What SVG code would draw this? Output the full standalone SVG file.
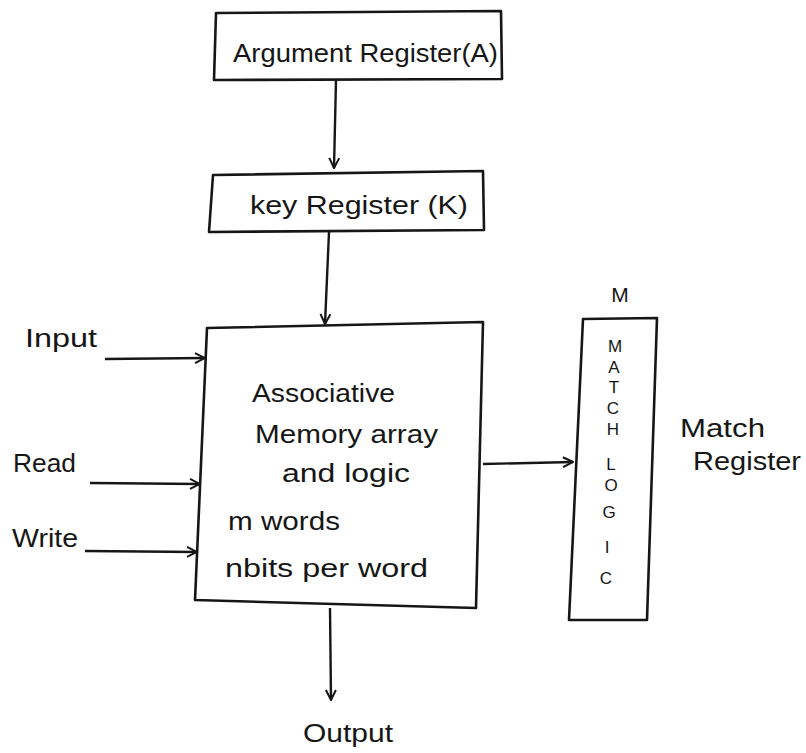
<svg xmlns="http://www.w3.org/2000/svg" width="806" height="753" viewBox="0 0 806 753">
<style>
.box{fill:none;stroke:#161616;stroke-width:2.6;stroke-linejoin:round}
.ln{fill:none;stroke:#161616;stroke-width:2.4}
.t{font-family:"Liberation Sans","DejaVu Sans",sans-serif;fill:#161616;font-size:25px}
.v{font-family:"Liberation Sans","DejaVu Sans",sans-serif;fill:#161616;font-size:17px;text-anchor:middle}
</style>
<defs>
<marker id="ah" viewBox="0 0 12 12" refX="11" refY="6" markerWidth="12" markerHeight="12" markerUnits="userSpaceOnUse" orient="auto">
<path d="M1,1 L11,6 L1,11" fill="none" stroke="#161616" stroke-width="2"/>
</marker>
</defs>
<rect width="806" height="753" fill="#ffffff"/>
<g id="argument-register">
<path class="box" d="M216,13 L501,11 L502,79 L214,80 Z"/>
<text class="t" x="233" y="62" textLength="265" lengthAdjust="spacingAndGlyphs">Argument Register(A)</text>
</g>
<g id="key-register">
<path class="box" d="M213,175 L483,171 L484,230 L209,232 Z"/>
<text class="t" x="250" y="214" textLength="218" lengthAdjust="spacingAndGlyphs">key Register (K)</text>
</g>
<g id="memory-array">
<path class="box" d="M207,328 L483,322 L476,608 L195,600 Z"/>
<text class="t" x="252" y="402" textLength="143" lengthAdjust="spacingAndGlyphs">Associative</text>
<text class="t" x="255" y="443" textLength="183" lengthAdjust="spacingAndGlyphs">Memory array</text>
<text class="t" x="282" y="482" textLength="128" lengthAdjust="spacingAndGlyphs">and logic</text>
<text class="t" x="228" y="530" textLength="112" lengthAdjust="spacingAndGlyphs">m words</text>
<text class="t" x="225" y="577" textLength="203" lengthAdjust="spacingAndGlyphs">nbits per word</text>
</g>
<g id="match-logic">
<text class="t" x="620" y="302" text-anchor="middle" style="font-size:21px">M</text>
<path class="box" d="M583,319 L657,318 L647,620 L569,620 Z"/>
<text class="v" x="615" y="352">M</text>
<text class="v" x="614" y="373">A</text>
<text class="v" x="614" y="393">T</text>
<text class="v" x="613" y="414">C</text>
<text class="v" x="613" y="435">H</text>
<text class="v" x="611" y="470">L</text>
<text class="v" x="611" y="491">O</text>
<text class="v" x="609" y="518">G</text>
<text class="v" x="607" y="553">I</text>
<text class="v" x="606" y="584">C</text>
</g>
<g id="match-register-label">
<text class="t" x="680" y="437" textLength="85" lengthAdjust="spacingAndGlyphs">Match</text>
<text class="t" x="693" y="470" textLength="108" lengthAdjust="spacingAndGlyphs">Register</text>
</g>
<g id="input-label"><text class="t" x="25" y="347" textLength="72" lengthAdjust="spacingAndGlyphs">Input</text></g>
<g id="read-label"><text class="t" x="13" y="472" textLength="63" lengthAdjust="spacingAndGlyphs">Read</text></g>
<g id="write-label"><text class="t" x="12" y="547" textLength="66" lengthAdjust="spacingAndGlyphs">Write</text></g>
<g id="output-label"><text class="t" x="303" y="742" textLength="90" lengthAdjust="spacingAndGlyphs">Output</text></g>
<g id="connectors">
<path class="ln" d="M336,80 L334,168" marker-end="url(#ah)"/>
<path class="ln" d="M329,232 L325,324" marker-end="url(#ah)"/>
<path class="ln" d="M105,359 L205,358" marker-end="url(#ah)"/>
<path class="ln" d="M90,483 L200,484" marker-end="url(#ah)"/>
<path class="ln" d="M85,551 L197,552" marker-end="url(#ah)"/>
<path class="ln" d="M483,464 L573,462" marker-end="url(#ah)"/>
<path class="ln" d="M330,608 L331,700" marker-end="url(#ah)"/>
</g>
</svg>
